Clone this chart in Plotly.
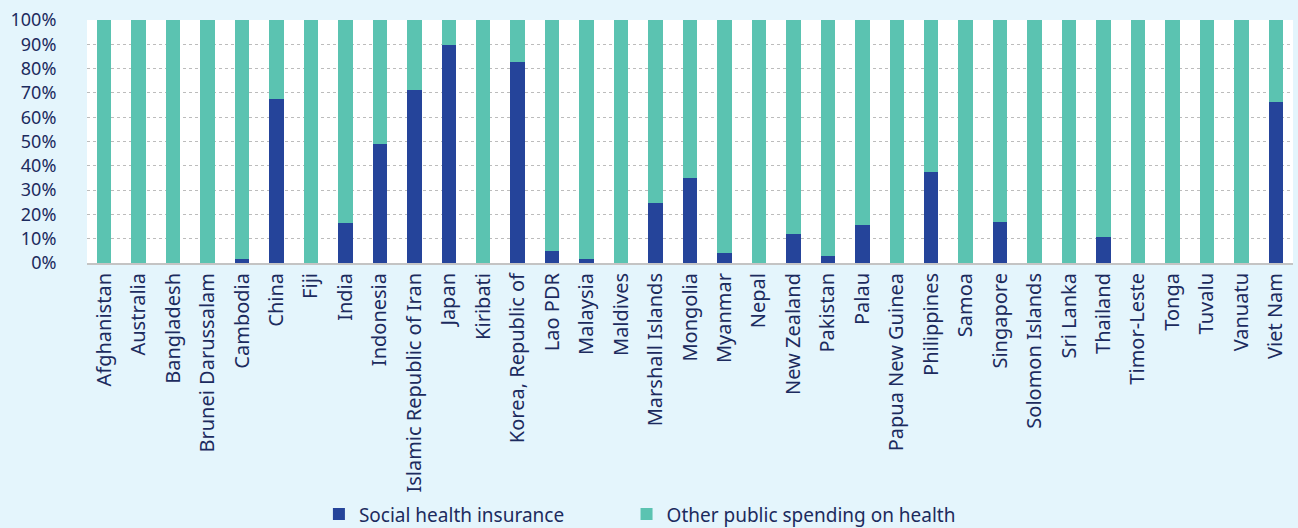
import plotly.graph_objects as go

countries = ["Afghanistan", "Australia", "Bangladesh", "Brunei Darussalam", "Cambodia", "China", "Fiji",
             "India", "Indonesia", "Islamic Republic of Iran", "Japan", "Kiribati", "Korea, Republic of",
             "Lao PDR", "Malaysia", "Maldives", "Marshall Islands", "Mongolia", "Myanmar", "Nepal",
             "New Zealand", "Pakistan", "Palau", "Papua New Guinea", "Philippines", "Samoa", "Singapore",
             "Solomon Islands", "Sri Lanka", "Thailand", "Timor-Leste", "Tonga", "Tuvalu", "Vanuatu", "Viet Nam"]

social_health_insurance = [0, 0, 0, 0, 1.6, 67.5, 0,
                           16.6, 49.1, 71.2, 89.7, 0, 82.7,
                           5.1, 1.6, 0, 24.7, 35.1, 4.0, 0,
                           11.9, 2.7, 15.5, 0, 37.6, 0, 16.7,
                           0, 0, 10.8, 0, 0, 0, 0, 66.4]

other_public_spending = [100, 100, 100, 100, 98.4, 32.5, 100,
                         83.4, 50.9, 28.8, 10.3, 100, 17.3,
                         94.9, 98.4, 100, 75.3, 64.9, 96.0, 100,
                         88.1, 97.3, 84.5, 100, 62.4, 100, 83.3,
                         100, 100, 89.2, 100, 100, 100, 100, 33.6]

y_ticks = [0, 10, 20, 30, 40, 50, 60, 70, 80, 90, 100]
y_tick_labels = ["0%", "10%", "20%", "30%", "40%", "50%", "60%", "70%", "80%", "90%", "100%"]

TEXT = "#1c2b5e"
BLUE = "#25449a"
TEAL = "#5bc3b1"
BG = "#e4f5fc"

fig = go.Figure()
fig.add_trace(go.Bar(x=countries, y=social_health_insurance, name="Social health insurance",
                     marker=dict(color=BLUE, line=dict(width=0)), legend="legend"))
fig.add_trace(go.Bar(x=countries, y=other_public_spending, name="Other public spending on health",
                     marker=dict(color=TEAL, line=dict(width=0)), legend="legend2"))

legend_common = dict(orientation="h", xref="container", yref="container", y=0.026,
                     xanchor="left", yanchor="middle",
                     font=dict(size=19, color=TEXT), bgcolor="rgba(0,0,0,0)")

fig.update_layout(
    barmode="stack",
    bargap=0.58,
    width=1298, height=528,
    paper_bgcolor=BG,
    plot_bgcolor="white",
    margin=dict(l=87, r=5, t=20, b=265, autoexpand=False),
    font=dict(family="Noto Sans", size=19, color=TEXT),
    legend=dict(x=0.2457, **legend_common),
    legend2=dict(x=0.4827, **legend_common),
    showlegend=True,
)
fig.update_xaxes(tickangle=-90, showline=True, linecolor="#c4c4c4", linewidth=2,
                 showgrid=False, ticks="", tickfont=dict(size=20, color=TEXT))
fig.update_yaxes(range=[0, 100], tickmode="array", tickvals=y_ticks, ticktext=y_tick_labels,
                 showgrid=True, gridcolor="#bcbcbc", griddash="dot", gridwidth=1, zeroline=False,
                 ticks="outside", ticklen=26, tickcolor="rgba(0,0,0,0)",
                 tickfont=dict(size=18, color=TEXT))

fig.write_html("out.html", config={"displayModeBar": False},
               post_script="document.body.style.margin='0';document.body.style.overflow='hidden';")
